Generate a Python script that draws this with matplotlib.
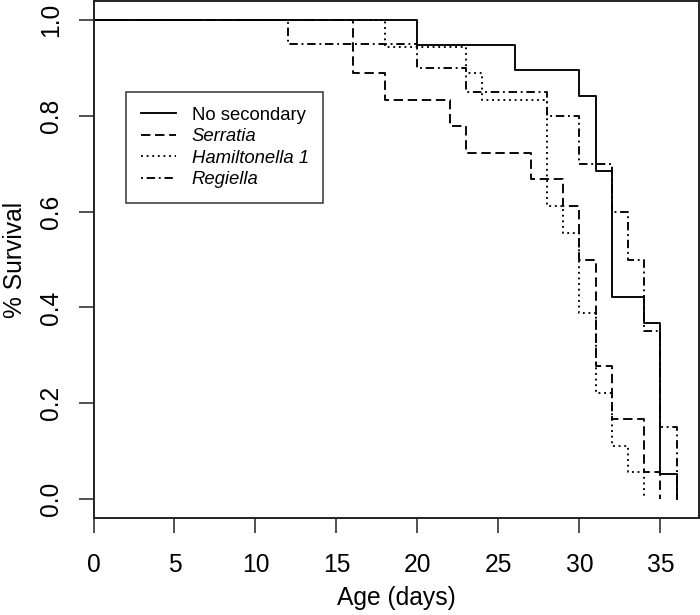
from matplotlib import pyplot as plt

plt.rcParams['font.family'] = ['Liberation Sans', 'DejaVu Sans']

# Kaplan-Meier steps (day, survival fraction)
no_sec_t = [0, 20, 26, 30, 31, 32, 34, 35, 36]
no_sec_s = [1.0, 0.947, 0.895, 0.842, 0.684, 0.421, 0.368, 0.053, 0.0]

serr_t = [0, 16, 18, 22, 23, 27, 29, 30, 31, 32, 34, 35]
serr_s = [1.0, 0.889, 0.833, 0.778, 0.722, 0.667, 0.611, 0.5, 0.278, 0.167, 0.056, 0.0]

ham_t = [0, 18, 23, 24, 28, 29, 30, 31, 32, 33, 34]
ham_s = [1.0, 0.944, 0.889, 0.833, 0.611, 0.556, 0.389, 0.222, 0.111, 0.056, 0.0]

reg_t = [0, 12, 20, 23, 28, 30, 32, 33, 34, 35, 36]
reg_s = [1.0, 0.95, 0.90, 0.85, 0.80, 0.70, 0.60, 0.50, 0.35, 0.15, 0.0]

labels = ['No secondary', 'Serratia', 'Hamiltonella 1', 'Regiella']
xticks = [0, 5, 10, 15, 20, 25, 30, 35]
yticks = [0.0, 0.2, 0.4, 0.6, 0.8, 1.0]

fig = plt.figure(figsize=(7, 6.15), dpi=100)
ax = fig.add_axes([93.5 / 700, 96.8 / 615, 605 / 700, 517.4 / 615])

lw = 1.35
ax.step(no_sec_t, no_sec_s, where='post', color='k', linewidth=lw, linestyle='-', label=labels[0])
ax.step(serr_t, serr_s, where='post', color='k', linewidth=lw, linestyle=(0, (5, 2.5)), label=labels[1])
ax.step(ham_t, ham_s, where='post', color='k', linewidth=lw, linestyle=(0, (1, 2)), label=labels[2])
ax.step(reg_t, reg_s, where='post', color='k', linewidth=lw, linestyle=(0, (1, 2, 4.5, 2)), label=labels[3])

ax.set_xlim(0, 37.35)
ax.set_ylim(-0.04, 1.04)
ax.set_xticks(xticks)
ax.set_yticks(yticks)
ax.set_yticklabels(['%.1f' % v for v in yticks], rotation=90, va='center')

ax.tick_params(axis='both', direction='out', length=10.8, width=1.1, labelsize=17.7, color='#222222')
ax.tick_params(axis='x', pad=14)
ax.tick_params(axis='y', pad=11)
for sp in ax.spines.values():
    sp.set_linewidth(1.4)
    sp.set_color('#222222')

ax.set_xlabel('Age (days)', fontsize=17.7, labelpad=7)
ax.set_ylabel('% Survival', fontsize=17.7, labelpad=9)

leg = ax.legend(loc='upper left', bbox_to_anchor=(0.0537, 0.8237), borderaxespad=0,
                fontsize=13.3, frameon=True, fancybox=False, edgecolor='k',
                handlelength=1.9, handletextpad=0.85, borderpad=0.8, labelspacing=0.24)
leg.get_frame().set_linewidth(1.1)
for t in leg.get_texts()[1:]:
    t.set_fontstyle('italic')

fig.savefig('out.png', dpi=100)
